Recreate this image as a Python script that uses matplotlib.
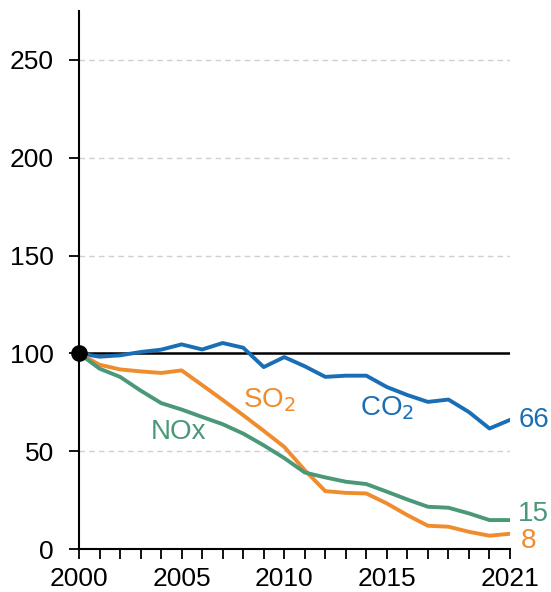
import matplotlib
matplotlib.use("Agg")
import matplotlib.pyplot as plt

plt.rcParams["font.family"] = ["Liberation Sans", "DejaVu Sans"]

years = list(range(2000, 2022))
co2 = [100, 98.3, 99.0, 100.7, 101.9, 104.6, 102.0, 105.3, 102.9, 93.0, 98.1,
       93.4, 88.0, 88.6, 88.6, 82.8, 78.7, 75.2, 76.4, 70.0, 61.6, 66.0]
so2 = [100, 94.2, 91.8, 90.8, 90.0, 91.3, 83.8, 76.2, 68.4, 60.4, 52.2,
       40.3, 29.6, 28.7, 28.4, 23.3, 17.3, 11.9, 11.4, 8.8, 6.8, 7.8]
nox = [100, 92.2, 88.0, 81.0, 74.6, 71.3, 67.5, 63.8, 59.0, 53.0, 46.5,
       39.1, 36.6, 34.4, 33.2, 29.3, 25.3, 21.6, 21.1, 18.2, 14.8, 14.8]

y_ticks = [0, 50, 100, 150, 200, 250]
x_labels = {2000: "2000", 2005: "2005", 2010: "2010", 2015: "2015", 2021: "2021"}

BLUE = "#1a6eb6"
ORANGE = "#ef8c2e"
GREEN = "#4b9878"

fig = plt.figure(figsize=(5.51, 5.92), dpi=100)
ax = fig.add_axes([0.1434, 0.0726, 0.7822, 0.9088])

for v in [50, 150, 200, 250]:
    ax.axhline(v, color="#d0d0d0", lw=1, ls=(0, (4, 3)), zorder=0)
ax.plot([years[0], years[-1]], [100, 100], color="black", lw=1.8, zorder=2)

ax.plot(years, co2, color=BLUE, lw=2.8, zorder=3)
ax.plot(years, so2, color=ORANGE, lw=2.8, zorder=3)
ax.plot(years, nox, color=GREEN, lw=2.8, zorder=3)
ax.plot([2000], [100], "o", color="black", ms=11, clip_on=False, zorder=5)

fs = 20
ax.text(2008.0, 76, "SO$_2$", color=ORANGE, fontsize=fs, va="center", ha="left")
ax.text(2013.7, 72, "CO$_2$", color=BLUE, fontsize=fs, va="center", ha="left")
ax.text(2003.5, 60, "NOx", color=GREEN, fontsize=fs, va="center", ha="left")
ax.text(2021.4, co2[-1], "66", color=BLUE, fontsize=fs, va="center", ha="left")
ax.text(2021.4, 18, "15", color=GREEN, fontsize=fs, va="center", ha="left")
ax.text(2021.5, 4, "8", color=ORANGE, fontsize=fs, va="center", ha="left")

ax.set_xlim(2000, 2021)
ax.set_ylim(0, 275)
ax.set_yticks(y_ticks)
ax.set_xticks(years)
ax.set_xticklabels([x_labels.get(y, "") for y in years])
ax.tick_params(axis="both", direction="out", length=7, width=1.3, labelsize=19, colors="black")
ax.tick_params(axis="x", pad=6)
ax.tick_params(axis="y", pad=11)
for s in ["top", "right"]:
    ax.spines[s].set_visible(False)
for s in ["left", "bottom"]:
    ax.spines[s].set_linewidth(1.5)

fig.savefig("out.png", dpi=100)
